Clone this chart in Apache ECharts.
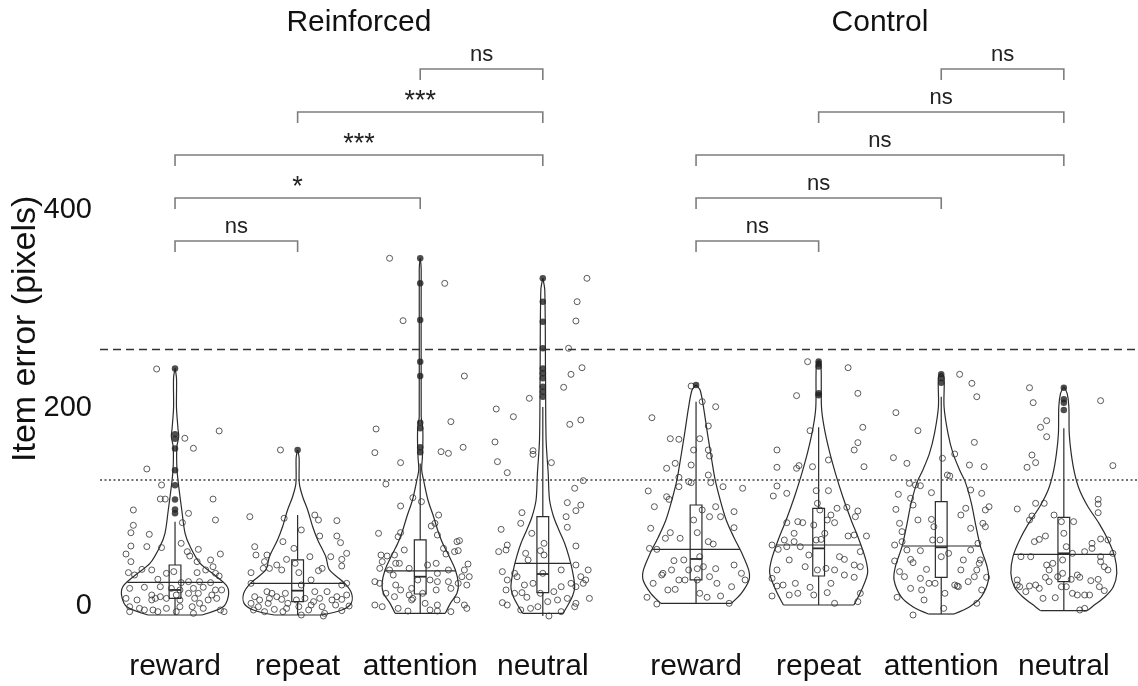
<!DOCTYPE html>
<html><head><meta charset="utf-8">
<script src="https://cdn.jsdelivr.net/npm/echarts@6/dist/echarts.min.js"></script>
<style>html,body{margin:0;padding:0;background:#fff}#c{width:1138px;height:686px}</style>
</head><body><div id="c"></div>
<script>
// ---------------- DATA ----------------
const groupNames = ['Reinforced', 'Control'];
const categories = ['reward', 'repeat', 'attention', 'neutral'];
const yTickLabels = [0, 200, 400];
const yAxisName = 'Item error (pixels)';
const dashedThreshold = 259.5;
const dottedThreshold = 127.3;

// box stats per condition: [whiskerLow, q1, median, q3, whiskerHigh]
const boxReinforced = [[-9, 7.7, 16.2, 41.4, 85], [-9, 4.4, 15.5, 46.5, 92], [-7.4, 12.1, 29.6, 66.7, 144], [-10, 13.5, 32.3, 90.2, 201]];
const boxControl = [[2.7, 26.3, 47.5, 102, 206.4], [1, 30.3, 58.2, 98.7, 180.5], [-8.1, 29, 59.3, 105.4, 211.4], [-4.7, 24.6, 53.2, 89.6, 179.5]];
// horizontal line drawn across each violin
const violinLineReinforced = [23.9, 22.9, 35.4, 43.1];
const violinLineControl = [57.2, 61.6, 60.6, 52.2];

// outliers (filled dots on the centre line)
const outliersReinforced = [
  [240, 173.4, 169, 159, 137, 122, 107.7, 97.6, 93.6],
  [157.6],
  [351.2, 325.9, 288.9, 246.8, 232.3, 185.2, 179.5, 160.3, 155.2],
  [331, 307.4, 287.2, 260.3, 240, 235, 230, 221.5, 216.5, 211.4]
];
const outliersControl = [
  [223.2],
  [247, 244.6, 242, 214.8, 213],
  [234, 230, 225.6],
  [220.5, 208.8, 205.4, 198]
];

// violin outlines: [value, half width (fraction of category spacing)], bottom to top
const violinReinforcedReward = [[-9.1,0.22],[-0.7,0.393],[9.4,0.434],[19.5,0.426],[29.6,0.34],[43,0.205],[60,0.123],[73.4,0.082],[97,0.055],[124,0.027],[140,0.015],[161,0.015],[171,0.03],[178,0.025],[200,0.012],[230,0.012],[240,0]];
const violinReinforcedRepeat = [[-9.1,0.19],[-4,0.36],[2.7,0.437],[12.8,0.44],[22.9,0.385],[36.4,0.26],[49.8,0.23],[66.7,0.164],[80.1,0.123],[97,0.082],[110.4,0.041],[123.9,0.014],[150,0.012],[157.6,0]];
const violinReinforcedAttention = [[-7.4,0.205],[2.7,0.246],[12.8,0.30],[22.9,0.311],[36.4,0.287],[49.8,0.238],[63.3,0.183],[76.8,0.142],[90.2,0.109],[107.1,0.063],[127.3,0.027],[137.4,0.012],[150.8,0.018],[167.7,0.022],[181.1,0.02],[191.2,0.008],[340,0.008],[351.2,0]];
const violinReinforcedNeutral = [[-7.4,0.164],[-0.7,0.197],[9.4,0.24],[19.5,0.26],[36.4,0.24],[49.8,0.213],[63.3,0.178],[76.8,0.131],[90.2,0.088],[107.1,0.055],[134,0.044],[167.7,0.027],[235,0.022],[319.2,0.016],[331,0]];
const violinControlReward = [[2.7,0.287],[12.8,0.369],[26.3,0.432],[36.4,0.429],[53.2,0.374],[70,0.306],[86.9,0.246],[107.1,0.197],[127.3,0.156],[147.5,0.128],[174.4,0.093],[201.3,0.06],[218.2,0.033],[223.2,0]];
const violinControlRepeat = [[1,0.287],[16.2,0.35],[33,0.399],[46.5,0.385],[66.7,0.33],[86.9,0.265],[110.4,0.197],[134,0.137],[157.6,0.085],[181.1,0.044],[201.3,0.023],[243.4,0.019],[247.8,0]];
const violinControlAttention = [[-8.1,0.104],[-0.7,0.232],[9.4,0.328],[26.3,0.385],[39.7,0.374],[59.9,0.32],[80.1,0.284],[103.7,0.246],[123.9,0.2],[137.4,0.15],[154.2,0.096],[174.4,0.055],[201.3,0.023],[231.6,0.023],[235,0]];
const violinControlNeutral = [[-4.7,0.191],[-0.7,0.232],[9.4,0.336],[19.5,0.404],[33,0.432],[49.8,0.415],[66.7,0.361],[83.5,0.287],[100.3,0.197],[117.2,0.128],[134,0.088],[154.2,0.06],[174.4,0.044],[201.3,0.041],[214.8,0.027],[221.5,0]];

// individual trials: [horizontal jitter, value]
const jitterReinforcedReward = [[-0.15,239.4],[0.08,169.4],[0.15,159.3],[0.36,176.8],[-0.23,138.4],[-0.11,122.2],[-0.12,108.1],[-0.08,108],[0.31,108],[-0.34,97],[0.11,93.6],[0.33,86.9],[-0.34,81.5],[-0.36,74],[-0.21,72.4],[0.06,84.2],[-0.36,60.6],[-0.23,60],[-0.11,59],[-0.40,52.5],[-0.36,44.8],[0.05,63.3],[0.10,54.9],[0.19,57.2],[0.37,52.5],[0.12,50.5],[0.29,46.5],[0.18,44.8],[0.31,39.7],[-0.27,37],[-0.19,36.4],[-0.38,33.7],[-0.33,31.3],[-0.07,33],[-0.01,34.7],[0.18,33.7],[0.25,36.4],[0.33,33],[0.36,30.3],[-0.14,27],[0.05,23.6],[0.11,24.6],[0.20,24.6],[0.29,23.6],[-0.37,17.8],[-0.25,18.9],[-0.12,19.5],[-0.03,17.8],[0.04,16.2],[0.15,17.8],[0.23,18.9],[0.33,16.2],[0.38,16.2],[-0.19,11.1],[-0.12,9.4],[0.01,11.1],[0.11,12.8],[0.19,12.8],[0.30,11.1],[-0.40,7.7],[-0.31,6.1],[-0.19,6.1],[-0.07,7.7],[0.04,6.1],[0.16,7.7],[0.34,7.7],[-0.37,-0.7],[-0.29,-2.4],[-0.18,-4],[-0.07,-2.4],[0.04,-0.7],[0.14,-0.7],[0.23,-2.4],[0.37,-4],[-0.37,-5.7],[-0.25,-4],[-0.14,-5.7],[0.01,-5.7],[0.15,-7.4],[0.40,-5.7],[-0.16,7.7],[0.20,2.7],[0.27,6.1]];
const jitterReinforcedRepeat = [[-0.14,157.6],[-0.39,90.2],[-0.11,88.6],[0.14,91.9],[0.17,86.9],[0.32,86.2],[0.03,76.8],[0.32,70.7],[0.35,64],[0.18,70.7],[-0.35,59.9],[-0.34,51.5],[-0.12,65],[-0.03,58.2],[-0.25,51.5],[0.40,53.2],[-0.17,41.4],[-0.09,47.1],[-0.02,43.1],[0.10,49.8],[0.27,49.8],[0.36,47.1],[-0.27,44.8],[-0.28,38],[-0.23,38],[0.36,40.4],[0.20,38],[-0.38,33.7],[-0.13,36.4],[0.01,33.7],[0.11,26.3],[0.40,22.9],[0.36,21.2],[-0.38,22.9],[-0.25,14.5],[-0.17,9.4],[-0.10,12.8],[0.06,7.7],[0.14,14.5],[0.24,14.5],[0.32,9.4],[0.40,11.1],[-0.35,9.4],[-0.31,6.1],[-0.23,7.7],[-0.13,6.7],[-0.01,6.1],[0.18,7.7],[0.28,6.1],[0.36,6.7],[-0.38,2.7],[-0.32,-0.7],[-0.24,2.7],[-0.19,-3.4],[-0.09,-2.4],[0.01,-0.7],[0.11,1],[0.20,-0.7],[0.31,1],[0.42,0],[-0.36,-4],[-0.27,-5.7],[-0.12,-5.7],[0.09,-4],[0.22,-7.4],[0.36,-4.7],[0.03,-9.1],[0.21,-10.1],[0.13,4.4],[-0.08,2.7],[-0.21,12.8],[0.03,21.2],[0.17,35.7]];
const jitterReinforcedAttention = [[-0.25,351.2],[0.20,325.9],[-0.14,288.2],[0.36,232.3],[0.25,186.2],[-0.36,178.8],[-0.37,154.9],[0.17,155.9],[0.23,154.2],[0.35,160.3],[-0.16,144.8],[-0.28,123.2],[-0.06,109.4],[-0.16,101],[0.01,105.4],[-0.34,73.4],[-0.16,74.1],[-0.18,70],[0.15,91.9],[0.12,83.5],[0.09,80.8],[0.14,71.7],[0.30,65],[0.32,66],[0.19,58.2],[0.28,54.9],[0.21,52.5],[0.31,55.9],[-0.13,56.6],[-0.21,51.5],[-0.27,50.5],[-0.32,51.5],[-0.31,44.8],[-0.20,43.1],[-0.33,38],[-0.25,36.4],[-0.17,43.1],[-0.09,38],[0.06,41.4],[0.13,43.1],[0.39,42.4],[0.36,36.4],[0.34,29.6],[0.40,29.6],[-0.37,24.6],[-0.33,22.9],[-0.22,31.3],[-0.20,21.2],[-0.07,17.8],[-0.02,26.3],[0.08,26.3],[0.14,24.6],[0.23,24.6],[0.31,22.9],[-0.16,16.2],[-0.09,11.1],[0.02,12.8],[0.13,16.2],[0.25,17.8],[0.38,21.2],[-0.28,12.8],[-0.21,9.4],[-0.07,6.1],[0.04,2.7],[0.14,1],[0.30,6.1],[0.36,1],[-0.37,1],[-0.31,-0.7],[-0.18,-2.4],[-0.10,-5.1],[0.08,-4],[0.14,-5.1],[0.25,-5.7],[0.38,-2.4],[0.14,33],[-0.06,7.7],[0.23,36.4]];
const jitterReinforcedNeutral = [[0.36,331],[0.28,307.4],[0.27,287.9],[0.21,260.3],[0.32,240.7],[0.23,234],[0.17,220.9],[-0.11,209.8],[-0.38,199],[-0.24,191.2],[0.22,183.5],[0.31,187.9],[-0.39,165.7],[-0.08,156.9],[-0.08,153.2],[0.07,144.8],[-0.37,145.8],[-0.29,134.7],[0.33,126.6],[0.26,118.9],[0.20,104.4],[0.31,102],[0.27,96.3],[-0.17,94.3],[-0.18,83.5],[0.19,90.2],[0.20,79.5],[-0.34,77.4],[0.27,60.6],[-0.29,61.6],[-0.30,56.6],[-0.36,54.9],[-0.09,73.4],[0.01,63.3],[-0.14,53.2],[-0.02,55.9],[0.01,51.5],[-0.12,46.5],[0.15,36.4],[0.27,41.4],[0.37,36.4],[0.31,29.6],[0.35,26.3],[0.33,22.9],[0.27,19.5],[0.23,22.9],[0.15,19.5],[0.09,14.5],[0,33],[-0.23,33],[-0.21,29.6],[-0.29,26.3],[-0.15,21.2],[-0.08,22.9],[-0.33,34.7],[-0.30,16.2],[-0.23,12.8],[-0.17,13.5],[-0.13,8.8],[-0.04,-0.7],[0.04,4.4],[0.12,6.1],[0.20,7.7],[0.27,2.7],[0.38,7.7],[-0.33,3.4],[-0.29,1],[-0.18,-4],[-0.10,-2.4],[0.05,-10.1],[0.15,-5.7],[0.26,-0.7],[-0.02,12.8]];
const jitterControlReward = [[-0.04,222.2],[0.05,206.4],[0.16,201.3],[-0.36,190.2],[0.10,181.8],[-0.21,169],[-0.14,168.4],[0.03,169],[-0.02,157.6],[0.10,157.6],[-0.24,139.1],[-0.17,144.1],[-0.04,142.4],[0.11,151.5],[-0.14,130],[-0.06,125.6],[0.10,132.3],[0.22,120.5],[0.38,118.9],[-0.39,116.2],[-0.14,120.5],[-0.24,110.4],[-0.22,107.7],[-0.04,124.6],[0.12,124.6],[-0.34,100.3],[0.16,100.3],[0.20,90.2],[0.11,90.2],[0.31,95.3],[0.05,97],[-0.37,78.5],[-0.21,74.1],[-0.13,68.4],[-0.02,86.9],[0.01,74.1],[0.10,65],[0.31,79.1],[0.14,62.6],[-0.38,58.2],[-0.32,57.2],[-0.25,68.4],[-0.18,45.8],[-0.10,46.5],[0.03,49.8],[0.16,37.7],[0.06,39.7],[-0.27,33],[-0.20,36.4],[-0.14,26.3],[-0.09,26.3],[0.01,37.7],[0.11,29.6],[0.17,22.9],[0.31,41.4],[0.37,33],[0.40,26.3],[0.29,19.5],[-0.35,22.9],[-0.23,16.2],[-0.17,16.8],[0.01,26.3],[0.09,8.8],[0.20,10.1],[0.27,2.7],[-0.40,8.8],[-0.32,2],[-0.28,31.3],[0.03,12.8],[-0.06,36.4]];
const jitterControlRepeat = [[-0.09,246.8],[0.24,240.7],[-0.18,212.5],[0.32,214.8],[-0.07,177.1],[0.36,180.5],[0.32,165],[-0.34,157.6],[0.29,157.6],[0.08,147.5],[-0.34,140.1],[-0.18,139.1],[-0.16,141.8],[-0.05,140.7],[0.37,140.7],[-0.37,111.1],[-0.26,113.8],[-0.34,121.2],[-0.02,116.5],[0.08,116.5],[-0.01,103.7],[0.01,97],[0.10,91.9],[0.15,98.7],[0.23,99.7],[0.32,96],[-0.26,84.2],[-0.17,85.2],[-0.13,84.2],[0.07,86.9],[-0.04,81.8],[0.13,84.2],[0.30,90.2],[0.39,70.7],[-0.28,66.7],[-0.20,65],[0.02,67.3],[0.05,73.4],[0.24,70.7],[0.29,71.7],[-0.38,61.6],[-0.33,57.2],[-0.26,59.9],[-0.15,59.9],[-0.02,66.7],[0.17,49.8],[0.21,47.1],[0.34,54.9],[-0.34,36.4],[-0.24,46.5],[-0.11,39.7],[-0.01,36.4],[0.06,38],[0.13,36.4],[0.29,41.4],[0.34,39.7],[-0.38,27.9],[-0.34,20.2],[-0.29,21.2],[-0.19,22.9],[-0.07,18.9],[0.10,22.9],[0.21,31.3],[0.29,29],[-0.38,10.1],[-0.24,11.1],[-0.17,12.8],[-0.04,11.1],[0.07,13.5],[0.13,2.7],[0.32,4.4],[0.34,12.8],[-0.08,51.5],[-0.20,73.4]];
const jitterControlAttention = [[0.15,234],[0.25,224.9],[0.29,211.4],[-0.37,195.3],[-0.19,177.1],[0.27,165.3],[-0.39,149.8],[-0.28,144.1],[0.01,149.2],[0.11,153.5],[0.23,142.4],[0.35,140.7],[-0.26,123.9],[-0.21,122.2],[-0.17,121.5],[0.05,132.3],[0.07,131.3],[0.24,117.2],[0.33,113.8],[-0.08,114.5],[-0.35,112.8],[-0.25,108.8],[-0.23,102],[-0.37,97.6],[-0.34,83.5],[-0.32,75.1],[-0.38,61.6],[-0.32,65],[-0.19,86.9],[-0.08,87.5],[-0.06,80.1],[-0.07,66.7],[-0.01,66.7],[0.16,91.9],[0.20,98.7],[0.24,78.5],[0.36,97],[0.39,100.3],[0.34,83.5],[0.36,80.1],[-0.28,56.6],[-0.17,55.9],[0.06,53.2],[0.30,63.3],[0.24,56.6],[0.32,46.5],[0.31,43.1],[0.29,36.4],[-0.25,47.1],[-0.23,43.8],[-0.38,45.5],[-0.34,34.7],[-0.30,29.6],[-0.12,37],[-0.17,27.9],[-0.10,22.9],[-0.05,22.9],[0.18,46.5],[0.16,36.4],[0.13,20.2],[0.22,24.6],[0.27,29.6],[0.37,29],[0.33,16.2],[-0.25,17.8],[-0.16,16.2],[0.03,12.8],[0.11,21.2],[0.14,19.5],[-0.36,8.8],[-0.14,6.1],[0.29,2.7],[-0.23,-9.1],[0.02,-2.4],[0,49.8]];
const jitterControlNeutral = [[-0.28,220.5],[-0.25,205.4],[0.30,207.4],[-0.14,187.2],[-0.19,180.5],[-0.14,171],[-0.26,152.5],[-0.23,144.8],[-0.30,140.1],[0.40,141.8],[-0.38,98],[-0.26,90.9],[-0.28,86.9],[-0.23,103.7],[-0.02,85.2],[0.08,85.2],[0,73.4],[0.02,59.9],[-0.16,103.7],[-0.08,91.9],[0.28,107.7],[0.28,103],[0.28,94.3],[-0.24,65],[-0.20,67.3],[-0.15,70.7],[0.23,63.3],[0.30,67.7],[0.36,66.7],[0.17,54.9],[0.23,58.2],[-0.35,49.8],[-0.27,49.8],[-0.14,41.4],[-0.12,36.4],[-0.09,43.1],[-0.01,46.5],[0.07,53.2],[0.30,49.8],[0.30,44.8],[0.33,39.7],[0.36,36.4],[0.40,53.2],[-0.38,26.3],[-0.36,19.5],[-0.28,20.2],[-0.23,21.2],[-0.15,29],[-0.12,24.6],[-0.05,29.6],[-0.01,33],[0.06,26.9],[0.11,31.3],[0.13,29],[0.22,25.6],[0.28,26.9],[-0.38,21.2],[-0.31,14.5],[-0.20,17.8],[-0.07,8.4],[-0.02,19.5],[0.07,12.8],[0.11,11.1],[0.17,11.1],[0.21,11.1],[0.29,19.5],[0.33,15.5],[0.13,-4],[0.17,-2.4],[-0.17,7.7],[0.02,19.5]];

// significance brackets: [group, from category, to category, level, label]
const brackets = [
  [0, 0, 1, 368.7, 'ns'], [0, 0, 2, 412.1, '*'], [0, 0, 3, 455.6, '***'], [0, 1, 3, 499, '***'], [0, 2, 3, 542.4, 'ns'],
  [1, 0, 1, 368.7, 'ns'], [1, 0, 2, 412.1, 'ns'], [1, 0, 3, 455.6, 'ns'], [1, 1, 3, 499, 'ns'], [1, 2, 3, 542.4, 'ns']
];

// ---------------- ASSEMBLY ----------------
const violins = [violinReinforcedReward, violinReinforcedRepeat, violinReinforcedAttention, violinReinforcedNeutral,
                 violinControlReward, violinControlRepeat, violinControlAttention, violinControlNeutral];
const jitters = [jitterReinforcedReward, jitterReinforcedRepeat, jitterReinforcedAttention, jitterReinforcedNeutral,
                 jitterControlReward, jitterControlRepeat, jitterControlAttention, jitterControlNeutral];
const boxes = boxReinforced.concat(boxControl);
const violinLines = violinLineReinforced.concat(violinLineControl);
const outliers = outliersReinforced.concat(outliersControl);

const GROUP_GAP = 0.25;
const positions = [];
groupNames.forEach((g, gi) => categories.forEach((c, ci) => positions.push(gi * (categories.length + GROUP_GAP) + ci)));
const groupCenters = groupNames.map((g, gi) => (positions[gi * 4] + positions[gi * 4 + 3]) / 2);
const X_MIN = -0.612, X_MAX = 7.855;
const BOX_HW = 0.048;
const FONT = 'Liberation Sans';
const INK = '#2b2b2b';

function halfWidthAt(prof, v) {
  for (let i = 0; i < prof.length - 1; i++) {
    const [v0, h0] = prof[i], [v1, h1] = prof[i + 1];
    if (v >= v0 && v <= v1) return h0 + (h1 - h0) * (v - v0) / (v1 - v0);
  }
  return 0;
}

function renderViolin(params, api) {
  const k = params.dataIndex;
  const x0 = positions[k];
  const prof = violins[k];
  const st = { stroke: INK, lineWidth: 1.2, fill: null };
  const right = prof.map(([v, h]) => api.coord([x0 + h, v]));
  const left = prof.map(([v, h]) => api.coord([x0 - h, v]));
  const children = [
    { type: 'polyline', shape: { points: right, smooth: 0.3 }, style: st },
    { type: 'polyline', shape: { points: left, smooth: 0.3 }, style: st },
    { type: 'line', shape: { x1: left[0][0], y1: left[0][1], x2: right[0][0], y2: right[0][1] }, style: st }
  ];
  const lv = violinLines[k];
  const hw = halfWidthAt(prof, lv);
  const a = api.coord([x0 - hw, lv]), b = api.coord([x0 + hw, lv]);
  children.push({ type: 'line', shape: { x1: a[0], y1: a[1], x2: b[0], y2: b[1] }, style: st });
  const [lo, q1, med, q3, hi] = boxes[k];
  const p1 = api.coord([x0 - BOX_HW, q3]), p2 = api.coord([x0 + BOX_HW, q1]);
  children.push({ type: 'rect', shape: { x: p1[0], y: p1[1], width: p2[0] - p1[0], height: p2[1] - p1[1] }, style: st });
  const m1 = api.coord([x0 - BOX_HW, med]), m2 = api.coord([x0 + BOX_HW, med]);
  children.push({ type: 'line', shape: { x1: m1[0], y1: m1[1], x2: m2[0], y2: m2[1] }, style: { stroke: INK, lineWidth: 1.8 } });
  const c = (v) => api.coord([x0, v]);
  children.push({ type: 'line', shape: { x1: c(lo)[0], y1: c(lo)[1], x2: c(q1)[0], y2: c(q1)[1] }, style: st });
  children.push({ type: 'line', shape: { x1: c(q3)[0], y1: c(q3)[1], x2: c(hi)[0], y2: c(hi)[1] }, style: st });
  return { type: 'group', children };
}

function renderBracket(params, api) {
  const [g, from, to, level, label] = brackets[params.dataIndex];
  const A = api.coord([positions[g * 4 + from], level]);
  const B = api.coord([positions[g * 4 + to], level]);
  const tick = 11;
  const stars = label.indexOf('*') >= 0;
  return {
    type: 'group',
    children: [
      { type: 'polyline', shape: { points: [[A[0], A[1] + tick], [A[0], A[1]], [B[0], B[1]], [B[0], B[1] + tick]] },
        style: { stroke: '#7d7d7d', lineWidth: 1.6, fill: null } },
      { type: 'text', x: (A[0] + B[0]) / 2, y: A[1] + (stars ? 3 : -3),
        style: { text: label, textAlign: 'center', textVerticalAlign: 'bottom', fill: '#222',
                 font: (stars ? '27px ' : '22px ') + FONT } }
    ]
  };
}

const pointData = [];
jitters.forEach((arr, k) => arr.forEach(([dx, v]) => pointData.push([positions[k] + dx, v])));
const outlierData = [];
outliers.forEach((arr, k) => arr.forEach(v => outlierData.push([positions[k], v])));

const chart = echarts.init(document.getElementById('c'), null, { renderer: 'canvas' });
chart.setOption({
  animation: false,
  backgroundColor: '#fff',
  textStyle: { fontFamily: FONT },
  grid: { left: 100, right: 0, top: 51.6, bottom: 80, containLabel: false, outerBoundsMode: 'none' },
  xAxis: [
    { type: 'value', min: X_MIN, max: X_MAX, position: 'bottom',
      axisLine: { show: false }, axisTick: { show: false }, splitLine: { show: false },
      axisLabel: { customValues: positions, margin: 46, fontSize: 30, color: '#111', fontFamily: FONT,
        formatter: v => { const i = positions.findIndex(p => Math.abs(p - v) < 1e-6); return i >= 0 ? categories[i % 4] : ''; } } },
    { type: 'value', min: X_MIN, max: X_MAX, position: 'top',
      axisLine: { show: false }, axisTick: { show: false }, splitLine: { show: false },
      axisLabel: { customValues: groupCenters, margin: 14, fontSize: 30, color: '#111', fontFamily: FONT,
        formatter: v => { const i = groupCenters.findIndex(p => Math.abs(p - v) < 1e-6); return i >= 0 ? groupNames[i] : ''; } } }
  ],
  yAxis: {
    type: 'value', min: 0, max: 560,
    name: yAxisName, nameLocation: 'middle', nameGap: 57, nameMoveOverlap: false,
    nameTextStyle: { fontSize: 34, color: '#111', fontFamily: FONT },
    axisLine: { show: false }, axisTick: { show: false }, splitLine: { show: false },
    axisLabel: { customValues: yTickLabels, fontSize: 29, color: '#111', margin: 8, fontFamily: FONT }
  },
  series: [
    { type: 'custom', name: 'violins', xAxisIndex: 0, renderItem: renderViolin,
      data: positions.map((p, k) => [p, 0, k]), silent: true, z: 2 },
    { type: 'scatter', name: 'trials', xAxisIndex: 0, clip: false, data: pointData, symbol: 'circle', symbolSize: 6,
      itemStyle: { color: 'rgba(255,255,255,0)', borderColor: '#333', borderWidth: 1 }, silent: true, z: 3,
      markLine: { silent: true, symbol: ['none', 'none'], label: { show: false },
        data: [
          { yAxis: dashedThreshold, lineStyle: { type: [8, 5], color: '#333', width: 1.3 } },
          { yAxis: dottedThreshold, lineStyle: { type: [2, 2.5], color: '#444', width: 1.6 } }
        ] } },
    { type: 'scatter', name: 'outliers', xAxisIndex: 0, clip: false, data: outlierData, symbol: 'circle', symbolSize: 6.5,
      itemStyle: { color: '#222' }, silent: true, z: 4 },
    { type: 'custom', name: 'brackets', xAxisIndex: 0, renderItem: renderBracket,
      data: brackets.map((b, i) => [positions[b[0] * 4 + b[1]], b[3]]), silent: true, z: 5 }
  ]
});
</script></body></html>
